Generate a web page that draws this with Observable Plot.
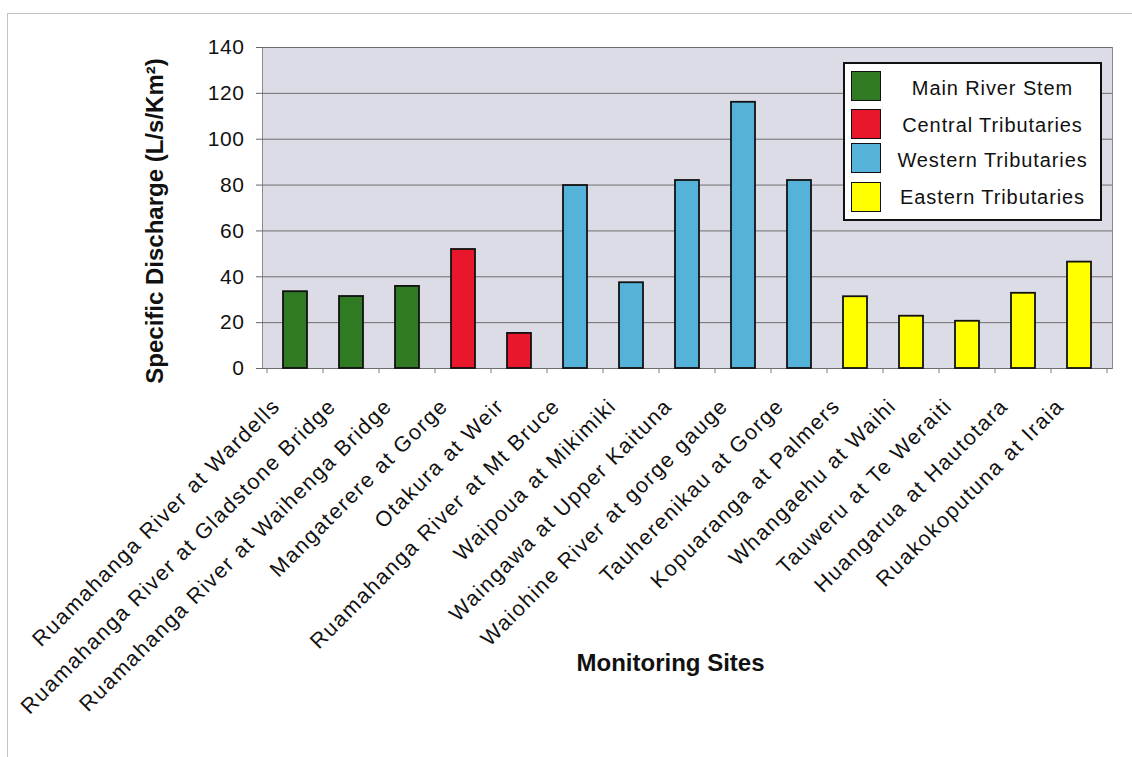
<!DOCTYPE html>
<html>
<head>
<meta charset="utf-8">
<script src="https://cdn.jsdelivr.net/npm/d3@7"></script>
<script src="https://cdn.jsdelivr.net/npm/@observablehq/plot@0.6"></script>
<style>
  html, body { margin: 0; padding: 0; background: #fff; }
  #wrap { position: relative; width: 1132px; height: 757px; overflow: hidden; font-family: "Liberation Sans", Arial, sans-serif; }
  #border { position: absolute; left: 7px; top: 13px; width: 1140px; height: 760px; border-left: 1.5px solid #c4c4c4; border-top: 1.5px solid #c4c4c4; }
  #legend { position: absolute; left: 843px; top: 62px; width: 255px; height: 155px; border: 2px solid #111; background: #fff; box-sizing: content-box; }
  .sw { position: absolute; left: 6px; width: 28px; height: 28px; border: 1.5px solid #111; }
  .lt { position: absolute; left: 44px; right: 4px; height: 31px; line-height: 31px; text-align: center; font-size: 20px; letter-spacing: 0.9px; color: #111; }
  svg { position: absolute; left: 0; top: 0; }
  g[aria-label="x-axis tick label"] text { letter-spacing: 1.5px; }
  g[aria-label="y-axis tick label"] text { letter-spacing: 0.6px; }
  g[aria-label="ytitle"] text { letter-spacing: 1.9px; }
  g[aria-label="xtitle"] text { letter-spacing: 2.9px; }
</style>
</head>
<body>
<div id="wrap"><div id="border"></div></div>
<script>
const sites = [
  "Ruamahanga River at Wardells",
  "Ruamahanga River at Gladstone Bridge",
  "Ruamahanga River at Waihenga Bridge",
  "Mangaterere at Gorge",
  "Otakura at Weir",
  "Ruamahanga River at Mt Bruce",
  "Waipoua at Mikimiki",
  "Waingawa at Upper Kaituna",
  "Waiohine River at gorge gauge",
  "Tauherenikau at Gorge",
  "Kopuaranga at Palmers",
  "Whangaehu at Waihi",
  "Tauweru at Te Weraiti",
  "Huangarua at Hautotara",
  "Ruakokoputuna at Iraia"
];
const values = [33.5, 31.4, 35.8, 51.9, 15.3, 79.8, 37.4, 82.0, 116.1, 82.0, 31.3, 22.8, 20.6, 32.8, 46.4];
const groupOf = [0, 0, 0, 1, 1, 2, 2, 2, 2, 2, 3, 3, 3, 3, 3];
const groups = ["Main River Stem", "Central Tributaries", "Western Tributaries", "Eastern Tributaries"];
const groupColors = ["#2f7a22", "#e8172b", "#55b3da", "#ffff00"];
const yTicks = [0, 20, 40, 60, 80, 100, 120, 140];
const yLabel = "Specific Discharge (L/s/Km²)";
const xLabel = "Monitoring Sites";

const data = sites.map((s, i) => ({site: s, value: values[i], group: groups[groupOf[i]]}));

const chart = Plot.plot({
  width: 1132,
  height: 757,
  marginLeft: 262,
  marginRight: 20,
  marginTop: 47,
  marginBottom: 389,
  style: {fontFamily: "Liberation Sans, Arial, sans-serif", color: "#111", background: "transparent"},
  x: {domain: sites, paddingInner: 0.57, paddingOuter: 0.285},
  y: {domain: [0, 140]},
  color: {domain: groups, range: groupColors},
  marks: [
    Plot.frame({fill: "#dcdce7", stroke: "#8a8a8a"}),
    Plot.gridY(yTicks, {stroke: "#6e6e6e", strokeOpacity: 1, strokeWidth: 1}),
    Plot.barY(data, {x: "site", y: "value", fill: "group", stroke: "#111", strokeWidth: 1.8}),
    Plot.axisY(yTicks, {tickSize: 6, tickPadding: 12, fontSize: 21, label: null, stroke: "#666"}),
    Plot.axisX({tickSize: 0, tickRotate: -45, tickPadding: 34, dx: -19, fontSize: 21.5, label: null}),
    Plot.text([yLabel], {frameAnchor: "left", textAnchor: "middle", dx: -107, dy: 13, rotate: -90, fontWeight: "bold", fontSize: 24, ariaLabel: "ytitle"}),
    Plot.text([xLabel], {frameAnchor: "bottom", textAnchor: "middle", dx: -17, dy: 302, fontWeight: "bold", fontSize: 24, ariaLabel: "xtitle"})
  ]
});

// boundary tick marks along the category axis, from the band scale
const xs = chart.scale("x");
const svg = d3.select(chart.tagName === "svg" ? chart : chart.querySelector("svg"));
const y0 = chart.scale("y").apply(0);
const start = xs.apply(sites[0]) - (xs.step - xs.bandwidth) / 2;
for (let i = 0; i <= sites.length; i++) {
  const px = start + i * xs.step;
  svg.append("line").attr("x1", px).attr("x2", px).attr("y1", y0).attr("y2", y0 + 5)
    .attr("stroke", "#777").attr("stroke-width", 1);
}

const wrap = document.getElementById("wrap");
wrap.appendChild(chart);

const legend = document.createElement("div");
legend.id = "legend";
const swatchTops = [7, 45, 79, 118];
const textTops = [9, 46, 81, 118];
groups.forEach((g, i) => {
  const sw = document.createElement("div");
  sw.className = "sw";
  sw.style.top = swatchTops[i] + "px";
  sw.style.background = groupColors[i];
  const lt = document.createElement("div");
  lt.className = "lt";
  lt.style.top = textTops[i] + "px";
  lt.textContent = g;
  legend.appendChild(sw);
  legend.appendChild(lt);
});
wrap.appendChild(legend);
</script>
</body>
</html>
